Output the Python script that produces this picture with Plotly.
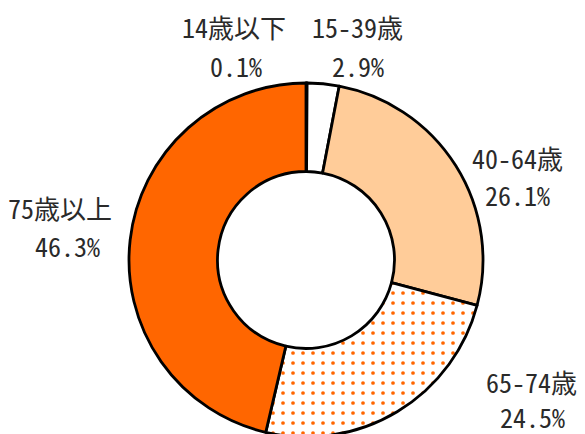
import plotly.graph_objects as go

labels = ["14歳以下", "15-39歳", "40-64歳", "65-74歳", "75歳以上"]
values = [0.1, 2.9, 26.1, 24.5, 46.3]
colors = ["#FFFFFF", "#FFFFFF", "#FFCC99", "#FFFFFF", "#FF6600"]
patterns = ["", "", "", ".", ""]

W, H = 585, 434
OFF = 8  # default page margin of the html body
cx, cy, r = 306 - OFF, 260 - OFF, 177

fig = go.Figure(go.Pie(
    labels=labels,
    values=values,
    sort=False,
    direction="clockwise",
    rotation=0,
    hole=0.5,
    textinfo="none",
    hoverinfo="label+percent",
    marker=dict(
        colors=colors,
        line=dict(color="black", width=2.8),
        pattern=dict(shape=patterns, fgcolor="#FF6600", bgcolor="white",
                     size=10, solidity=0.11),
    ),
    domain=dict(x=[(cx - r) / W, (cx + r) / W],
                y=[(H - cy - r) / H, (H - cy + r) / H]),
    showlegend=False,
))

# centres of the two text lines of each label (pixels in the picture)
name_pos = [(234, 27), (357, 27), (517, 158), (531, 381), (60, 207)]
pct_pos = [(236, 66), (358, 66), (517, 194), (532, 416), (67, 245)]
font = dict(family="Noto Sans Mono CJK JP, Noto Sans CJK JP", size=26, color="#2a2a2a")


def px(x, y):
    return (x - OFF) / W, 1 - (y - OFF) / H


for name, v, p1, p2 in zip(labels, values, name_pos, pct_pos):
    for txt, p in ((name, p1), (f"{v:.1f}%", p2)):
        x, y = px(*p)
        fig.add_annotation(x=x, y=y, xref="paper", yref="paper", text=txt,
                           showarrow=False, xanchor="center", yanchor="middle",
                           font=font)

fig.update_layout(
    width=W, height=H,
    margin=dict(l=0, r=0, t=0, b=0),
    paper_bgcolor="white",
    plot_bgcolor="white",
)

fig.write_html("out.html")
